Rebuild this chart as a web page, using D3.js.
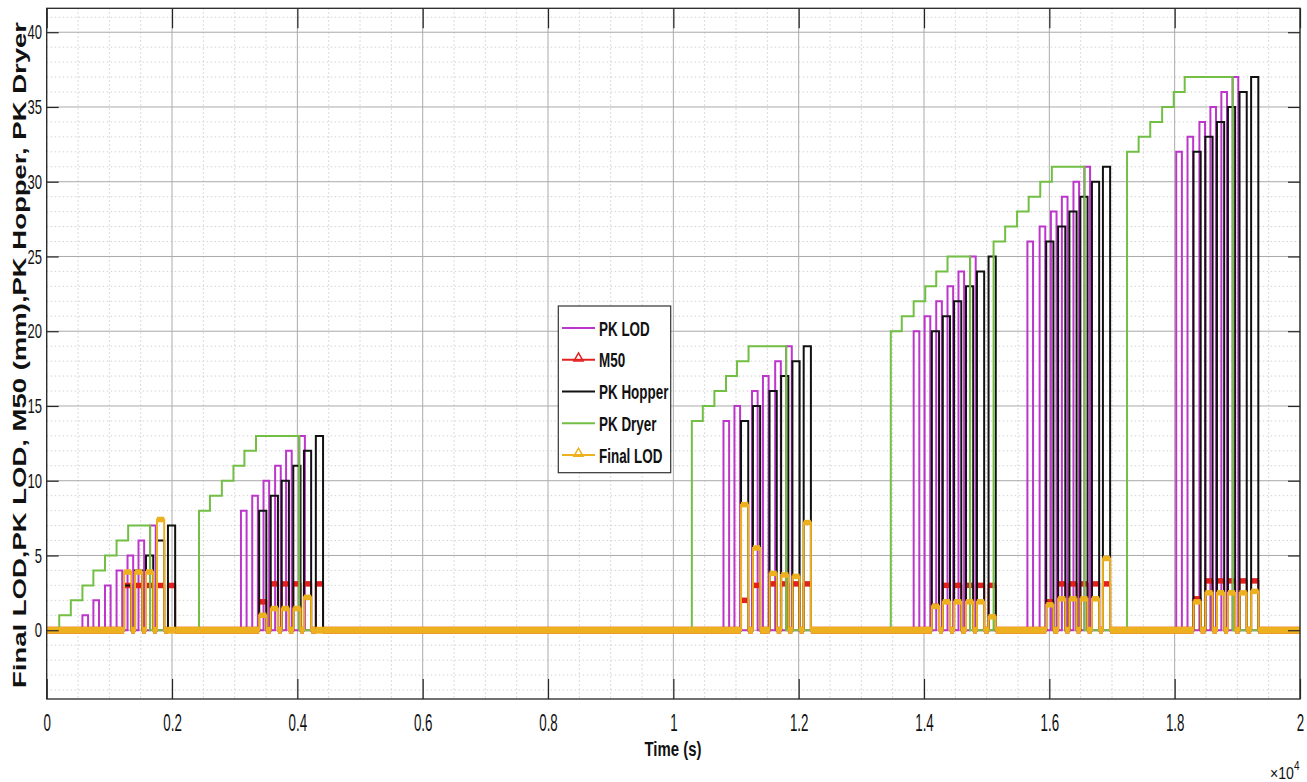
<!DOCTYPE html>
<html>
<head>
<meta charset="utf-8">
<script src="https://cdn.jsdelivr.net/npm/d3@7"></script>
<style>
  html, body { margin: 0; padding: 0; background: #ffffff; }
  svg { display: block; font-family: "Liberation Sans", Arial, Helvetica, sans-serif; }
</style>
</head>
<body>
<svg id="chart" width="1307" height="782"></svg>
<script>
// ---------------------------------------------------------------------------
// Data (time in seconds)
// ---------------------------------------------------------------------------

// PK Dryer: the dryer count steps up once per batch within each campaign
const dryerStepTimes = [
  [200, 385, 570, 745, 930, 1115, 1300],
  [2430, 2605, 2795, 2980, 3155, 3340],
  [10295, 10470, 10655, 10840, 11015, 11200],
  [13470, 13645, 13835, 14020, 14195, 14375],
  [15110, 15295, 15485, 15670, 15855, 16040],
  [17240, 17425, 17610, 17800, 17985, 18160]
];
const dryerLevels = [
  [1, 2, 3, 4, 5, 6, 7],
  [8, 9, 10, 11, 12, 13],
  [14, 15, 16, 17, 18, 19],
  [20, 21, 22, 23, 24, 25],
  [26, 27, 28, 29, 30, 31],
  [32, 33, 34, 35, 36, 37]
];
// time at which each campaign's dryer signal returns to zero
const dryerEndTimes = [1650, 4030, 11800, 14735, 16560, 18925];

// PK LOD: one short pulse per batch
const lodPulseStart = [
  570, 745, 930, 1115, 1290, 1465, 1650,
  3100, 3280, 3460, 3645, 3820, 4030,
  10800, 10975, 11255, 11430, 11625, 11800,
  13835, 14010, 14195, 14375, 14550, 14735,
  15650, 15845, 16025, 16200, 16385, 16560,
  18025, 18205, 18395, 18570, 18745, 18925
];
const lodPulseValue = [
  1, 2, 3, 4, 5, 6, 7,
  8, 9, 10, 11, 12, 13,
  14, 15, 16, 17, 18, 19,
  20, 21, 22, 23, 24, 25,
  26, 27, 28, 29, 30, 31,
  32, 33, 34, 35, 36, 37
];
const lodPulseDuration = 90;

// PK Hopper: batches passing through the hopper
const hopperPulseStart = [
  1235, 1410, 1585, 1760, 1935,
  3390, 3575, 3750, 3935, 4105, 4295,
  11080, 11270, 11535, 11720, 11900, 12080,
  14125, 14300, 14480, 14670, 14845, 15030,
  15950, 16140, 16320, 16495, 16680, 16855,
  18300, 18490, 18675, 18850, 19035, 19220
];
const hopperPulseValue = [
  3, 4, 5, 6, 7,
  8, 9, 10, 11, 12, 13,
  14, 15, 16, 17, 18, 19,
  20, 21, 22, 23, 24, 25,
  26, 27, 28, 29, 30, 31,
  32, 33, 34, 35, 36, 37
];
const hopperPulseDuration = 115;

// M50 (mm) and Final LOD, sampled while each batch is in the hopper
const m50PulseValue = [
  3.0, 3.0, 3.0, 3.0, 3.0,
  1.9, 3.1, 3.1, 3.1, 3.1, 3.1,
  2.0, 3.0, 3.1, 3.1, 3.1, 3.1,
  1.6, 3.0, 3.0, 3.0, 3.0, 3.0,
  1.9, 3.1, 3.1, 3.1, 3.1, 3.1,
  2.1, 3.3, 3.3, 3.3, 3.3, 3.3
];
const finalLodPulseValue = [
  3.9, 3.9, 3.9, 7.4, 0,
  1.0, 1.45, 1.45, 1.45, 2.2, 0,
  8.4, 5.5, 3.8, 3.7, 3.6, 7.2,
  1.6, 1.9, 1.9, 1.9, 1.9, 0.9,
  1.7, 2.1, 2.1, 2.1, 2.1, 4.8,
  1.9, 2.5, 2.5, 2.5, 2.5, 2.6
];

// Axes
const timeDomain = [0, 20000];
const valueDomain = [-4.6, 41.6];
const xTickValues = [0, 2000, 4000, 6000, 8000, 10000, 12000, 14000, 16000, 18000, 20000];
const xTickLabels = ["0", "0.2", "0.4", "0.6", "0.8", "1", "1.2", "1.4", "1.6", "1.8", "2"];
const yTickValues = [0, 5, 10, 15, 20, 25, 30, 35, 40];
const xMinorStep = 500;
const yMinorStep = 1;

const seriesNames = ["PK LOD", "M50", "PK Hopper", "PK Dryer", "Final LOD"];
const seriesColors = ["#bd36cc", "#e3201f", "#111111", "#72bf44", "#edb120"];

// ---------------------------------------------------------------------------
// Layout
// ---------------------------------------------------------------------------
const svg = d3.select("#chart");
const plot = { left: 46.7, right: 1300, top: 8.3, bottom: 699 };

const x = d3.scaleLinear().domain(timeDomain).range([plot.left, plot.right]);
const y = d3.scaleLinear().domain(valueDomain).range([plot.bottom, plot.top]);

svg.append("defs").append("clipPath").attr("id", "plot-clip")
  .append("rect")
  .attr("x", plot.left).attr("y", plot.top)
  .attr("width", plot.right - plot.left).attr("height", plot.bottom - plot.top);

// ---------------------------------------------------------------------------
// Grid
// ---------------------------------------------------------------------------
const grid = svg.append("g").attr("class", "grid");
const xMinor = d3.range(timeDomain[0], timeDomain[1] + 1, xMinorStep).filter(v => !xTickValues.includes(v));
const yMinor = d3.range(Math.ceil(valueDomain[0]), Math.floor(valueDomain[1]) + 1, yMinorStep).filter(v => !yTickValues.includes(v));

grid.selectAll("line.xminor").data(xMinor).join("line")
  .attr("x1", d => x(d)).attr("x2", d => x(d))
  .attr("y1", plot.top).attr("y2", plot.bottom)
  .attr("stroke", "#cfcfcf").attr("stroke-width", 1).attr("stroke-dasharray", "1.5,2.5");
grid.selectAll("line.yminor").data(yMinor).join("line")
  .attr("x1", plot.left).attr("x2", plot.right)
  .attr("y1", d => y(d)).attr("y2", d => y(d))
  .attr("stroke", "#d2d2d2").attr("stroke-width", 1).attr("stroke-dasharray", "1.5,2.5");
grid.selectAll("line.xmajor").data(xTickValues).join("line")
  .attr("x1", d => x(d)).attr("x2", d => x(d))
  .attr("y1", plot.top).attr("y2", plot.bottom)
  .attr("stroke", "#aaaaaa").attr("stroke-width", 1);
grid.selectAll("line.ymajor").data(yTickValues).join("line")
  .attr("x1", plot.left).attr("x2", plot.right)
  .attr("y1", d => y(d)).attr("y2", d => y(d))
  .attr("stroke", "#aaaaaa").attr("stroke-width", 1);

// ---------------------------------------------------------------------------
// Series construction (change points, drawn as step-after lines)
// ---------------------------------------------------------------------------
function pulseSteps(starts, values, duration) {
  const pts = [[timeDomain[0], 0]];
  starts.forEach((s, i) => {
    pts.push([s, values[i]]);
    pts.push([s + duration, 0]);
  });
  pts.push([timeDomain[1], 0]);
  return pts;
}
function dryerSteps() {
  const pts = [[timeDomain[0], 0]];
  dryerStepTimes.forEach((times, g) => {
    times.forEach((t, i) => pts.push([t, dryerLevels[g][i]]));
    pts.push([dryerEndTimes[g], 0]);
  });
  pts.push([timeDomain[1], 0]);
  return pts;
}

const series = [
  { name: "PK LOD", pts: pulseSteps(lodPulseStart, lodPulseValue, lodPulseDuration), marker: false },
  { name: "M50", pts: pulseSteps(hopperPulseStart, m50PulseValue, hopperPulseDuration), marker: true },
  { name: "PK Hopper", pts: pulseSteps(hopperPulseStart, hopperPulseValue, hopperPulseDuration), marker: false },
  { name: "PK Dryer", pts: dryerSteps(), marker: false },
  { name: "Final LOD", pts: pulseSteps(hopperPulseStart, finalLodPulseValue, hopperPulseDuration), marker: true }
];

const stepLine = d3.line().x(d => x(d[0])).y(d => y(d[1])).curve(d3.curveStepAfter);
const plotArea = svg.append("g").attr("clip-path", "url(#plot-clip)");

series.forEach((s, k) => {
  const color = seriesColors[k];
  const g = plotArea.append("g").attr("class", "series");
  g.append("path")
    .attr("d", stepLine(s.pts))
    .attr("fill", "none")
    .attr("stroke", color)
    .attr("stroke-width", 2)
    .attr("stroke-linejoin", "miter");
  if (s.marker) {
    // densely sampled triangle markers merge into a solid band along each level
    const segs = d3.pairs(s.pts).filter(([a, b]) => b[0] > a[0]);
    g.selectAll("line.band").data(segs).join("line")
      .attr("x1", d => x(d[0][0])).attr("x2", d => x(d[1][0]))
      .attr("y1", d => y(d[0][1])).attr("y2", d => y(d[0][1]))
      .attr("stroke", color)
      .attr("stroke-width", d => d[0][1] === 0 ? 7 : 5.5)
      .attr("stroke-linecap", "butt");
  }
});

// ---------------------------------------------------------------------------
// Axes
// ---------------------------------------------------------------------------
const axisColor = "#262626";
const labelFmt = (d) => xTickLabels[xTickValues.indexOf(d)];

const xAxisBottom = svg.append("g")
  .attr("transform", `translate(0,${plot.bottom})`)
  .call(d3.axisBottom(x).tickValues(xTickValues).tickFormat(labelFmt)
    .tickSizeInner(-20).tickSizeOuter(0).tickPadding(16));
const xAxisTop = svg.append("g")
  .attr("transform", `translate(0,${plot.top})`)
  .call(d3.axisTop(x).tickValues(xTickValues).tickFormat("")
    .tickSizeInner(-20).tickSizeOuter(0));
const yAxisLeft = svg.append("g")
  .attr("transform", `translate(${plot.left},0)`)
  .call(d3.axisLeft(y).tickValues(yTickValues).tickFormat(d3.format("d"))
    .tickSizeInner(-12).tickSizeOuter(0).tickPadding(7.5));
const yAxisRight = svg.append("g")
  .attr("transform", `translate(${plot.right},0)`)
  .call(d3.axisRight(y).tickValues(yTickValues).tickFormat("")
    .tickSizeInner(-12).tickSizeOuter(0));

[xAxisBottom, xAxisTop, yAxisLeft, yAxisRight].forEach(a => {
  a.select(".domain").remove();
  a.selectAll(".tick line").attr("stroke", axisColor).attr("stroke-width", 1.2);
});
xAxisBottom.selectAll(".tick text")
  .attr("fill", "#111").attr("font-size", 23)
  .attr("font-family", "'Liberation Sans', Arial, sans-serif")
  .attr("transform", "scale(0.58,1)");
yAxisLeft.selectAll(".tick text")
  .attr("fill", "#111").attr("font-size", 21)
  .attr("font-family", "'Liberation Sans', Arial, sans-serif")
  .attr("transform", "scale(0.62,1)");

// frame
svg.append("rect")
  .attr("x", plot.left).attr("y", plot.top)
  .attr("width", plot.right - plot.left).attr("height", plot.bottom - plot.top)
  .attr("fill", "none").attr("stroke", axisColor).attr("stroke-width", 1.3);

// exponent label for the time axis (x10^4), one text with a raised tspan
const expo = svg.append("text")
  .attr("transform", "translate(1270,779) scale(0.83,1)")
  .attr("fill", "#111").attr("font-size", 17);
expo.append("tspan").text("\u00d710");
expo.append("tspan").attr("dy", -9).attr("font-size", 12).text("4");

// axis titles
svg.append("text")
  .attr("x", 673).attr("y", 756)
  .attr("text-anchor", "middle")
  .attr("font-size", 20).attr("font-weight", "bold").attr("fill", "#111")
  .attr("textLength", 57).attr("lengthAdjust", "spacingAndGlyphs")
  .text("Time (s)");

svg.append("text")
  .attr("transform", "translate(25.5,355) rotate(-90)")
  .attr("text-anchor", "middle")
  .attr("font-size", 17.5).attr("font-weight", "bold").attr("fill", "#111")
  .attr("textLength", 666).attr("lengthAdjust", "spacingAndGlyphs")
  .text("Final LOD,PK LOD, M50 (mm),PK Hopper, PK Dryer");

// ---------------------------------------------------------------------------
// Legend
// ---------------------------------------------------------------------------
const legend = svg.append("g").attr("class", "legend");
const legBox = { x: 558.3, y: 306, w: 112.4, h: 166.7 };
legend.append("rect")
  .attr("x", legBox.x).attr("y", legBox.y)
  .attr("width", legBox.w).attr("height", legBox.h)
  .attr("fill", "#ffffff").attr("stroke", "#333").attr("stroke-width", 1.2);

const legendRowY = d3.scalePoint().domain(seriesNames).range([328, 455]);
seriesNames.forEach((name, k) => {
  const cy = legendRowY(name);
  const color = seriesColors[k];
  legend.append("line")
    .attr("x1", 562).attr("x2", 595)
    .attr("y1", cy).attr("y2", cy)
    .attr("stroke", color).attr("stroke-width", 2);
  if (series[k].marker) {
    const tri = d3.symbol().type(d3.symbolTriangle).size(36);
    legend.append("path")
      .attr("d", tri())
      .attr("transform", `translate(578.5,${cy - 1.5})`)
      .attr("fill", "none").attr("stroke", color).attr("stroke-width", 1.5);
  }
  legend.append("text")
    .attr("transform", `translate(599,${cy}) scale(0.64,1)`)
    .attr("dy", "0.36em")
    .attr("font-size", 21).attr("font-weight", "bold").attr("fill", "#111")
    .text(name);
});
</script>
</body>
</html>
